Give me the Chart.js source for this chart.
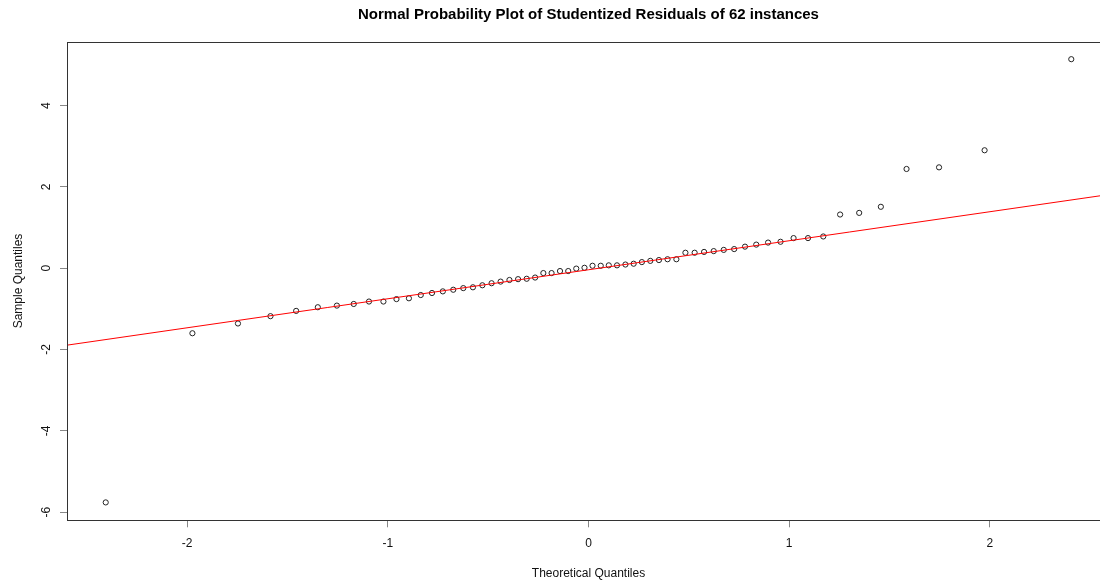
<!DOCTYPE html>
<html>
<head>
<meta charset="utf-8">
<script src="https://cdn.jsdelivr.net/npm/chart.js@4.4.1/dist/chart.umd.min.js"></script>
<style>
  html, body { margin: 0; padding: 0; overflow: hidden; background: #fff; }
  #c { display: block; }
</style>
</head>
<body>
<canvas id="c" width="1115" height="581"></canvas>
<script>
// Theoretical normal quantiles (x) of the 62 instances
const theoretical = [
  -2.406, -1.974, -1.747, -1.585, -1.457, -1.349, -1.254, -1.170, -1.094, -1.022,
  -0.957, -0.895, -0.836, -0.780, -0.726, -0.674, -0.624, -0.576, -0.529, -0.483,
  -0.438, -0.394, -0.351, -0.308, -0.266, -0.225, -0.184, -0.142, -0.101, -0.061,
  -0.020, 0.020, 0.061, 0.101, 0.142, 0.184, 0.225, 0.266, 0.308, 0.351,
  0.394, 0.438, 0.483, 0.529, 0.576, 0.624, 0.674, 0.726, 0.780, 0.836,
  0.895, 0.957, 1.022, 1.094, 1.170, 1.254, 1.349, 1.457, 1.585, 1.747,
  1.974, 2.406
];
// Sorted studentized residuals (y)
const residuals = [
  -5.76, -1.60, -1.36, -1.18, -1.05, -0.96, -0.92, -0.88, -0.82, -0.82,
  -0.76, -0.74, -0.66, -0.61, -0.57, -0.53, -0.49, -0.47, -0.42, -0.37,
  -0.33, -0.29, -0.27, -0.26, -0.23, -0.12, -0.12, -0.07, -0.07, -0.01,
  0.01, 0.06, 0.06, 0.07, 0.07, 0.09, 0.11, 0.15, 0.18, 0.20,
  0.22, 0.22, 0.38, 0.38, 0.40, 0.42, 0.45, 0.47, 0.53, 0.58,
  0.63, 0.65, 0.74, 0.74, 0.78, 1.32, 1.36, 1.51, 2.44, 2.48,
  2.90, 5.14
];
const xTicks = [-2, -1, 0, 1, 2];
const yTicks = [-6, -4, -2, 0, 2, 4];
const xRange = [-2.599, 2.599];
const yRange = [-6.20, 5.57];

// qqline through the first and third quartiles (type-7 quantiles)
function quantile(arr, p) {
  const s = arr.slice().sort((a, b) => a - b);
  const h = (s.length - 1) * p;
  const lo = Math.floor(h);
  return s[lo] + (h - lo) * ((s[lo + 1] ?? s[lo]) - s[lo]);
}
const zq = 0.6745;
const q1 = quantile(residuals, 0.25), q3 = quantile(residuals, 0.75);
const slope = (q3 - q1) / (2 * zq);
const intercept = q1 + zq * slope;
const qqLine = xRange.map(x => ({ x: x, y: intercept + slope * x }));

const points = theoretical.map((x, i) => ({ x: x, y: residuals[i] }));

const FONT = "'Liberation Sans', Arial, sans-serif";

const boxPlugin = {
  id: 'box',
  afterDraw(chart) {
    const a = chart.chartArea, ctx = chart.ctx;
    ctx.save();
    ctx.strokeStyle = '#333';
    ctx.lineWidth = 1;
    ctx.strokeRect(Math.round(a.left) + 0.5, Math.round(a.top) + 0.5,
                   Math.round(a.right) - Math.round(a.left), Math.round(a.bottom) - Math.round(a.top));
    ctx.restore();
  }
};

new Chart(document.getElementById('c'), {
  type: 'scatter',
  data: {
    datasets: [
      {
        data: qqLine,
        showLine: true,
        borderColor: '#ff0000',
        borderWidth: 1,
        pointRadius: 0,
        fill: false
      },
      {
        data: points,
        pointRadius: 2.6,
        pointBorderWidth: 1,
        pointBorderColor: '#222',
        pointBackgroundColor: 'rgba(0,0,0,0)',
        showLine: false
      }
    ]
  },
  options: {
    responsive: false,
    devicePixelRatio: 1,
    animation: false,
    layout: { padding: { left: 0, right: 1.5, top: 0, bottom: 0 } },
    plugins: {
      legend: { display: false },
      tooltip: { enabled: false },
      title: {
        display: true,
        fullSize: false,
        text: 'Normal Probability Plot of Studentized Residuals of 62 instances',
        color: '#000',
        font: { family: FONT, size: 15, weight: 'bold' },
        padding: { top: 5.5, bottom: 18.2 }
      }
    },
    scales: {
      x: {
        type: 'linear',
        min: xRange[0],
        max: xRange[1],
        afterBuildTicks: s => { s.ticks = xTicks.map(v => ({ value: v })); },
        afterFit: s => { s.height = 60.7; },
        border: { display: false },
        grid: { display: true, drawOnChartArea: false, drawTicks: true, tickLength: 7, tickColor: '#888', lineWidth: 1 },
        ticks: { color: '#111', font: { family: FONT, size: 12 }, padding: 9, maxRotation: 0, minRotation: 0 },
        title: {
          display: true,
          text: 'Theoretical Quantiles',
          color: '#111',
          font: { family: FONT, size: 12 },
          padding: { top: 0, bottom: 0.5 }
        }
      },
      y: {
        type: 'linear',
        min: yRange[0],
        max: yRange[1],
        afterBuildTicks: s => { s.ticks = yTicks.map(v => ({ value: v })); },
        afterFit: s => { s.width = 67; },
        border: { display: false },
        grid: { display: true, drawOnChartArea: false, drawTicks: true, tickLength: 7, tickColor: '#888', lineWidth: 1 },
        ticks: { color: '#111', font: { family: FONT, size: 12 }, padding: 8, minRotation: 90, maxRotation: 90, crossAlign: 'center' },
        title: {
          display: true,
          text: 'Sample Quantiles',
          color: '#111',
          font: { family: FONT, size: 12 },
          padding: { top: 11.5, bottom: 0 }
        }
      }
    }
  },
  plugins: [boxPlugin]
});
</script>
</body>
</html>
